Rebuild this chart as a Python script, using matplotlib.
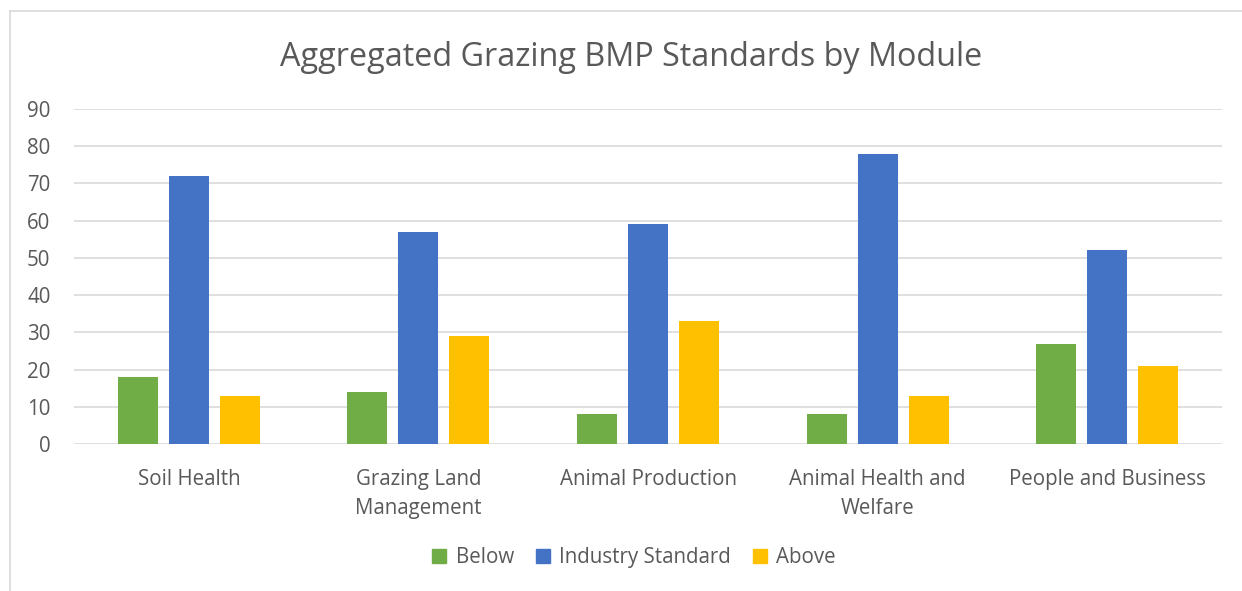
import numpy as np
import matplotlib.pyplot as plt
from matplotlib.lines import Line2D

# data
modules = ["Soil Health", "Grazing Land\nManagement", "Animal Production",
           "Animal Health and\nWelfare", "People and Business"]
below = [18, 14, 8, 8, 27]
industry = [72, 57, 59, 78, 52]
above = [13, 29, 33, 13, 21]

series = ["Below", "Industry Standard", "Above"]
colors = ["#70AD47", "#4472C4", "#FFC000"]
TEXT = "#595959"
GRID = "#D9D9D9"

plt.rcParams["font.family"] = ["Open Sans", "DejaVu Sans"]

fig = plt.figure(figsize=(12.42, 5.91), dpi=100)
ax = fig.add_axes([0.0596, 0.2487, 0.9243, 0.5669])

x = np.arange(len(modules))
width = 0.174
step = 0.222
for i, (vals, name, col) in enumerate(zip([below, industry, above], series, colors)):
    ax.bar(x + (i - 1) * step, vals, width, color=col, label=name, zorder=3)

ax.set_xlim(-0.5, len(modules) - 0.5)
ax.set_ylim(0, 90)
ax.set_yticks(range(0, 91, 10))
ax.yaxis.grid(True, color=GRID, linewidth=1.2, zorder=0)
ax.set_axisbelow(True)
for s in ax.spines.values():
    s.set_visible(False)
ax.tick_params(axis="both", length=0, labelsize=14.8, colors=TEXT)
ax.tick_params(axis="y", pad=17)
ax.tick_params(axis="x", pad=18)
ax.set_xticks(x)
ax.set_xticklabels(modules, linespacing=1.5)

fig.text(0.508, 0.903, "Aggregated Grazing BMP Standards by Module",
         ha="center", va="center", fontsize=23.3, color=TEXT)

handles = [Line2D([], [], marker="s", linestyle="none", markersize=10,
                  markerfacecolor=c, markeredgecolor=c) for c in colors]
fig.legend(handles, series, loc="center", bbox_to_anchor=(0.51, 0.057),
           ncol=3, frameon=False, fontsize=14.8, labelcolor=TEXT,
           handlelength=0.8, handletextpad=0.4, columnspacing=1.0)

# chart frame (top and left edges visible in the reference)
fig.add_artist(Line2D([10 / 1242, 1.0], [1 - 11 / 591, 1 - 11 / 591],
                      transform=fig.transFigure, color=GRID, linewidth=1.2))
fig.add_artist(Line2D([10 / 1242, 10 / 1242], [0, 1 - 11 / 591],
                      transform=fig.transFigure, color=GRID, linewidth=1.2))

fig.savefig("out.png", dpi=100, facecolor="white")
